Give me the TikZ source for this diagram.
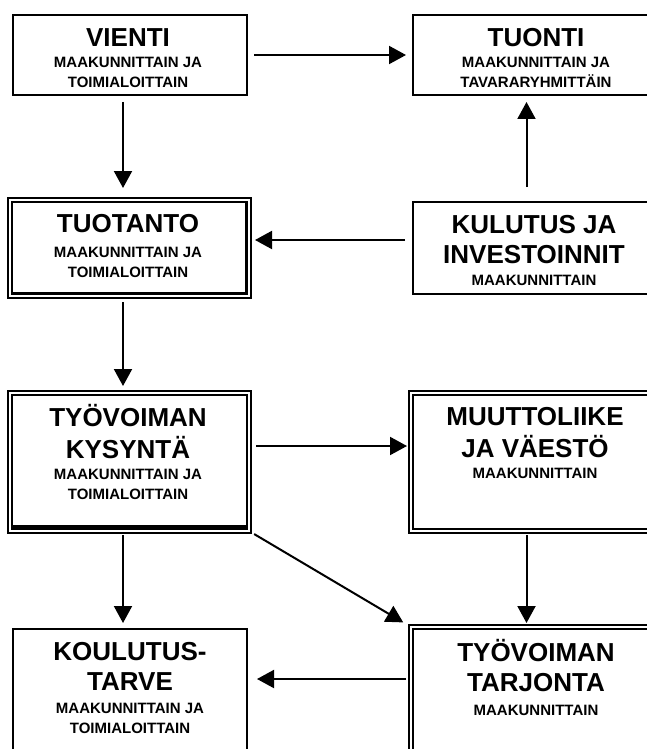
\documentclass[tikz,border=0pt]{standalone}
\usepackage{fontspec}
\setmainfont{Liberation Sans}[BoldFont={Liberation Sans Bold}]
\usetikzlibrary{arrows.meta}

\begin{document}
\begin{tikzpicture}[x=1pt, y=-1pt,
	box/.style={draw, line width=2.2pt, inner sep=0pt, outer sep=0pt},
	dblbox/.style={draw, double, line width=1.8pt, double distance=2pt, inner sep=0pt, outer sep=0pt},
	boxtitle/.style={anchor=north, align=center, inner sep=0pt, font=\bfseries\fontsize{26}{30}\selectfont},
	boxsub/.style={anchor=north, align=center, inner sep=0pt, font=\bfseries\fontsize{15}{20}\selectfont},
	arr/.style={line width=2pt, -{Triangle[length=17pt, width=18pt]}}]
	\useasboundingbox (0,0) rectangle (647,749);
	\clip (0,0) rectangle (647,749);
	%
	% boxes
	\node[box, minimum width=234pt, minimum height=80pt] (vienti) at (130,55) {};
	\node[box, minimum width=248pt, minimum height=80pt] (tuonti) at (537,55) {};
	\node[dblbox, minimum width=239pt, minimum height=96pt] (tuotanto) at (129.5,248) {};
	\node[box, minimum width=248pt, minimum height=92pt] (kulutus) at (537,248) {};
	\node[dblbox, minimum width=239pt, minimum height=138pt] (kysynta) at (129.5,462) {};
	\node[dblbox, minimum width=252pt, minimum height=138pt] (muutto) at (537,462) {};
	\node[box, minimum width=234pt, minimum height=160pt] (koulutus) at (130,709) {};
	\node[dblbox, minimum width=252pt, minimum height=160pt] (tarjonta) at (537,707) {};
	%
	% thick inner edges
	\draw[line width=3pt] ([xshift=-2.8pt, yshift=-2pt]tuotanto.north east) -- ([xshift=-2.8pt, yshift=2.8pt]tuotanto.south east) -- ([xshift=2pt, yshift=2.8pt]tuotanto.south west);
	\draw[line width=4.5pt] ([xshift=2pt, yshift=3.4pt]kysynta.south west) -- ([xshift=-2pt, yshift=3.4pt]kysynta.south east);
	%
	% arrow columns
	\coordinate (colL) at (123,0);
	\coordinate (colR) at (526.5,0);
	%
	% arrows
	\draw[arr, shorten <=7pt, shorten >=7pt] (vienti.east) -- (tuonti.west);
	\draw[arr, shorten <=7pt, shorten >=12pt] (vienti.south -| colL) -- (tuotanto.north -| colL);
	\draw[arr, shorten <=8pt, shorten >=6pt] ([yshift=8pt]kulutus.west) -- ([yshift=8pt]tuotanto.east);
	\draw[arr, shorten <=15pt, shorten >=7pt] (kulutus.north -| colR) -- (tuonti.south -| colR);
	\draw[arr, shorten <=6pt, shorten >=7pt] (tuotanto.south -| colL) -- (kysynta.north -| colL);
	\draw[arr, shorten <=7pt, shorten >=4pt] ([yshift=16pt]kysynta.east) -- ([yshift=16pt]muutto.west);
	\draw[arr, shorten <=4pt, shorten >=6pt] (kysynta.south -| colL) -- (koulutus.north -| colL);
	\draw[arr, shorten <=6pt, shorten >=9pt] (kysynta.south east) -- (tarjonta.north west);
	\draw[arr, shorten <=4pt, shorten >=4pt] (muutto.south -| colR) -- (tarjonta.north -| colR);
	\draw[arr, shorten <=5pt, shorten >=10pt] ([yshift=28pt]tarjonta.west) -- ([yshift=28pt]tarjonta.west -| koulutus.east);
	%
	% nodes -- text
	\node[boxtitle] (vientitxt) at (128,25) {\strut VIENTI};
	\node[boxsub] (vientisub) at (128,53) {\strut MAAKUNNITTAIN JA\\TOIMIALOITTAIN};
	\node[boxtitle] (tuontitxt) at (536,25) {\strut TUONTI};
	\node[boxsub] (tuontisub) at (536,53) {\strut MAAKUNNITTAIN JA\\TAVARARYHMITTÄIN};
	\node[boxtitle] (tuotantotxt) at (128,211) {\strut TUOTANTO};
	\node[boxsub] (tuotantosub) at (128,243) {\strut MAAKUNNITTAIN JA\\TOIMIALOITTAIN};
	\node[boxtitle] (kulutustxt) at (534,212) {\strut KULUTUS JA\\INVESTOINNIT};
	\node[boxsub] (kulutussub) at (534,271) {\strut MAAKUNNITTAIN};
	\node[boxtitle] (kysyntatxt) at (128,404) {\strut TYÖVOIMAN\\KYSYNTÄ};
	\node[boxsub] (kysyntasub) at (128,465) {\strut MAAKUNNITTAIN JA\\TOIMIALOITTAIN};
	\node[boxtitle] (muuttotxt) at (535,404) {\strut MUUTTOLIIKE\\JA VÄESTÖ};
	\node[boxsub] (muuttosub) at (535,464) {\strut MAAKUNNITTAIN};
	\node[boxtitle] (koulutustxt) at (130,639) {\strut KOULUTUS-\\TARVE};
	\node[boxsub] (koulutussub) at (130,699) {\strut MAAKUNNITTAIN JA\\TOIMIALOITTAIN};
	\node[boxtitle] (tarjontatxt) at (536,639) {\strut TYÖVOIMAN\\TARJONTA};
	\node[boxsub] (tarjontasub) at (536,701) {\strut MAAKUNNITTAIN};
\end{tikzpicture}
\end{document}
